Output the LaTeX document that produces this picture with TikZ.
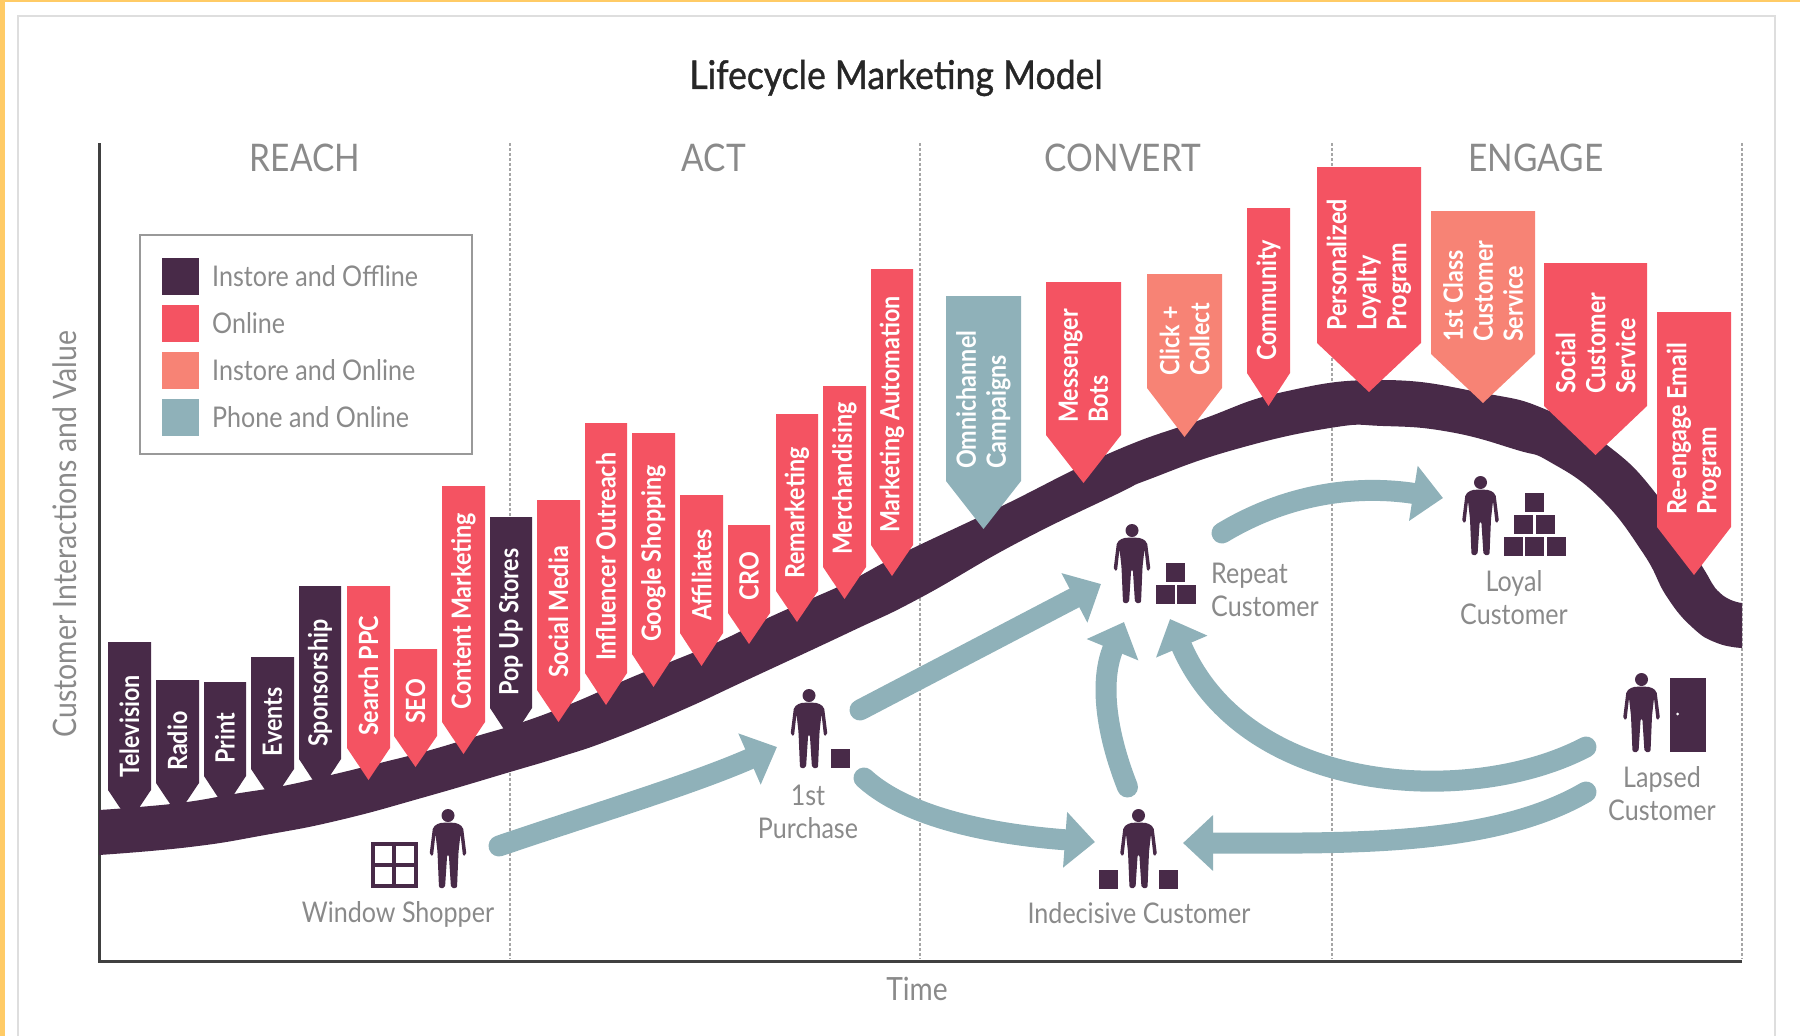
\documentclass[tikz,border=0pt]{standalone}
\usepackage{fontspec}
\setmainfont[FakeStretch=0.88]{Lato}
\newfontfamily\titlefont[FakeStretch=0.9,FakeBold=1]{Lato}
\usetikzlibrary{arrows.meta}
\definecolor{plum}{HTML}{482A48}
\definecolor{coral}{HTML}{F45362}
\definecolor{salmon}{HTML}{F78375}
\definecolor{teal}{HTML}{8FB1B9}
\definecolor{labgrey}{HTML}{8A8A8A}
\definecolor{strip}{HTML}{FFCB66}
\tikzset{
    lab/.style={text=labgrey,font=\fontsize{28.5}{33}\selectfont,align=center,inner sep=0pt},
    phase/.style={text=labgrey,font=\fontsize{38}{44}\selectfont,inner sep=0pt},
    taglab/.style={text=white,font=\fontsize{26.5}{30}\bfseries\selectfont,rotate=90,anchor=west,align=left,inner sep=0pt},
    swatch/.style={fill=#1,minimum size=37pt,inner sep=0pt},
    crate/.style={fill=plum,minimum size=19pt,inner sep=0pt},
    flow/.style={teal,line width=21pt,line cap=round,-{Triangle[length=30pt,width=54pt]}},
    person/.pic={
        \fill[plum] (0,-72.5) circle (6.5);
        \fill[plum,rounded corners=2pt] (0,-65.5) -- (9,-65) -- (15,-61) -- (18.5,-33) -- (15,-32) -- (12.5,-54)
            -- (10.5,-36) -- (9,0) -- (3,0) -- (0.8,-34) -- (-0.8,-34) -- (-3,0) -- (-9,0) -- (-10.5,-36)
            -- (-12.5,-54) -- (-15,-32) -- (-18.5,-33) -- (-15,-61) -- (-9,-65) -- cycle;
    }
}
\begin{document}
\begin{tikzpicture}[x=1pt,y=-1pt]
    \useasboundingbox (0,0) rectangle (1800,1036);
    % page frame
    \fill[strip] (0,0) rectangle (1800,2);
    \fill[strip] (0,0) rectangle (5,1036);
    \draw[black!13,line width=1.5pt] (18,1036) -- (18,16) -- (1775,16) -- (1775,1036);
    \node[text=black!85,font=\fontsize{39.5}{46}\titlefont\selectfont,inner sep=0pt] (title) at (896,78) {Lifecycle Marketing Model};
    % phases
    \foreach \x in {510,920,1332,1742}
        \draw[black!35,line width=1.5pt,dash pattern=on 2.5pt off 2.5pt] (\x,143) -- (\x,959);
    \node[phase] (reach) at (305,158) {REACH};
    \node[phase] (act) at (714,158) {ACT};
    \node[phase] (convert) at (1123,158) {CONVERT};
    \node[phase] (engage) at (1536,158) {ENGAGE};
    % axes
    \coordinate (origin) at (99,961);
    \draw[black!75,line width=3pt] (99,143) -- (origin) -- (1742,961);
    \node[lab,font=\fontsize{32.3}{36}\selectfont,rotate=90] (yaxis) at (65,534) {Customer Interactions and Value};
    \node[lab,font=\fontsize{32}{36}\selectfont] (xaxis) at (917,989) {Time};
    % legend
    \draw[black!40,line width=1.5pt] (140,235) rectangle (472,454);
    \foreach \yy/\col/\lab [count=\i] in {276/plum/Instore and Offline,323/coral/Online,370/salmon/Instore and Online,417/teal/Phone and Online}{
        \node[swatch=\col] (key\i) at (180.5,\yy) {};
        \node[lab,anchor=west] (keylab\i) at (212,\yy) {\lab};
    }
    % lifecycle band
    \fill[plum] plot[smooth,tension=0.8] coordinates {(99,810) (139,807) (187,802) (234,794) (283,786) (331,775) (380,763) (427,751) (477,736) (523,722) (573,703) (630,678) (670,662) (718,642) (770,617) (813,598) (850,581) (903,553) (1000,507) (1110,453) (1200,420) (1283,392) (1383,380) (1483,393) (1547,410) (1607,445) (1657,495) (1700,563) (1720,593) (1742,603)}
        -- (1742,648) -- plot[smooth,tension=0.8] coordinates {(1742,648) (1717,643) (1693,628) (1667,597) (1643,553) (1600,498) (1550,462) (1517,450) (1450,432) (1383,426) (1330,428) (1233,450) (1150,479) (1117,494) (1017,543) (920,598) (850,632) (747,680) (680,711) (610,740) (560,757) (510,772) (425,797) (340,820) (265,835) (190,847) (99,855)}
        -- cycle;
    % channel flags
    \foreach \xl/\xr/\yt/\ys/\yp/\col/\lab [count=\i] in {
        108/151/642/790/822/plum/Television,
        156/199/680/783/815/plum/Radio,
        204/246/682/776/808/plum/Print,
        251/294/657/769/801/plum/Events,
        299/341/586/759/791/plum/Sponsorship,
        347/390/586/748/780/coral/Search PPC,
        394/437/649/736/767/coral/SEO,
        442/485/486/722/754/coral/Content Marketing,
        490/532/517/708/740/plum/Pop Up Stores,
        537/580/500/690/722/coral/Social Media,
        585/627/423/673/705/coral/Influencer Outreach,
        632/675/433/654/687/coral/Google Shopping,
        680/723/495/633/666/coral/Affiliates,
        728/770/525/613/644/coral/CRO,
        776/818/414/591/622/coral/Remarketing,
        823/866/386/567/599/coral/Merchandising,
        871/913/269/545/576/coral/Marketing Automation,
        946/1021/296/481/529/teal/{Omnichannel\\Campaigns},
        1046/1121/282/435/483/coral/{Messenger\\Bots},
        1147/1222/274/388/437/salmon/{Click +\\Collect},
        1247/1290/208/373/406/coral/Community,
        1317/1421/167/343/392/coral/{Personalized\\Loyalty\\Program},
        1431/1535/211/354/403/salmon/{1st Class\\Customer\\Service},
        1544/1647/263/406/455/coral/{Social\\Customer\\Service},
        1657/1731/312/527/575/coral/{Re-engage Email\\Program}}{
        \fill[\col] (\xl,\yt) -- (\xr,\yt) -- (\xr,\ys) -- ({(\xl+\xr)/2},\yp) -- (\xl,\ys) -- cycle;
        \node[taglab] (tag\i) at ({(\xl+\xr)/2},{\ys-12}) {\lab};
    }
    % customers
    \pic at (448,888) {person};
    \draw[plum,line width=4pt] (372.5,843.5) rectangle (415.5,886) (394,843.5) -- (394,886) (372.5,864.7) -- (415.5,864.7);
    \node[lab] (shopper) at (398,914) {Window Shopper};
    \pic at (809,768) {person};
    \node[crate] (bought) at (840,758.5) {};
    \node[lab] (first) at (808,812) {1st\\Purchase};
    \pic at (1138.5,888) {person};
    \node[crate] (boxa) at (1108,879) {};
    \node[crate] (boxb) at (1168.5,879) {};
    \node[lab] (indecisive) at (1139,913) {Indecisive Customer};
    \pic at (1132,603) {person};
    \foreach \x/\y [count=\i] in {1165/594,1186/594,1175.5/572}
        \node[crate] (rep\i) at (\x,\y) {};
    \node[lab,align=left,anchor=west] (repeatc) at (1211,589.5) {Repeat\\Customer};
    \pic at (1480.5,555) {person};
    \foreach \x/\y [count=\i] in {1513/546,1534.5/546,1556/546,1523.5/524,1545.5/524,1534.5/502}
        \node[crate] (loy\i) at (\x,\y) {};
    \node[lab] (loyal) at (1514,597.5) {Loyal\\Customer};
    \pic at (1641.5,752) {person};
    \fill[plum] (1670,678) rectangle (1705.5,752);
    \fill[white] (1677.5,714) circle (1.5);
    \node[lab] (lapsed) at (1662,793.5) {Lapsed\\Customer};
    % journeys
    \coordinate (shopperout) at (499,846);
    \coordinate (firstin) at (777,747);
    \coordinate (firstup) at (860,710);
    \coordinate (repeatin) at (1101,584);
    \coordinate (firstdown) at (864,778);
    \coordinate (indecin) at (1095,842);
    \coordinate (indecout) at (1127.5,787);
    \coordinate (repeatlow) at (1124,622);
    \coordinate (lapsedup) at (1586,747);
    \coordinate (repeatarc) at (1170,619);
    \coordinate (lapsedlow) at (1586,792);
    \coordinate (indecback) at (1183,843);
    \coordinate (repeatout) at (1222,533);
    \coordinate (loyalin) at (1443,498);
    \draw[flow] (shopperout) .. controls (590,815) and (690,785) .. (firstin);
    \draw[flow] (firstup) -- (repeatin);
    \draw[flow] (firstdown) .. controls (910,820) and (1000,835) .. (indecin);
    \draw[flow] (indecout) .. controls (1105,730) and (1100,680) .. (repeatlow);
    \draw[flow] (lapsedup) .. controls (1470,808) and (1245,795) .. (repeatarc);
    \draw[flow] (lapsedlow) .. controls (1490,848) and (1340,843) .. (indecback);
    \draw[flow] (repeatout) .. controls (1290,492) and (1360,485) .. (loyalin);
\end{tikzpicture}
\end{document}
